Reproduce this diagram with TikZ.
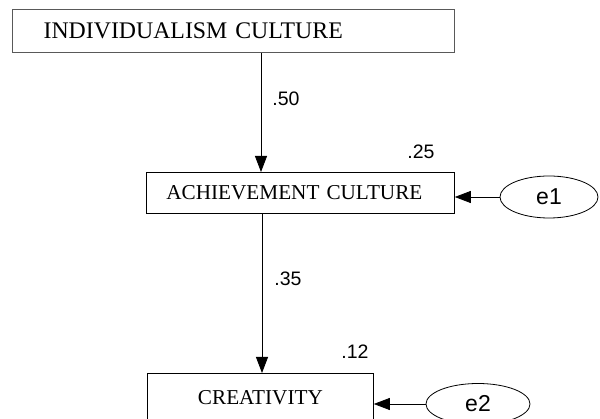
\documentclass[tikz,border=0pt]{standalone}
\usepackage{fontspec}
\setmainfont{Liberation Serif}
\newfontfamily\numfont{Liberation Sans}
\usetikzlibrary{arrows.meta,shapes.geometric}
\begin{document}
\begin{tikzpicture}[x=1pt,y=-1pt,
  box/.style={draw, line width=0.8pt, rectangle, inner ysep=0pt, anchor=north west},
  err/.style={draw, ellipse, line width=0.8pt, inner sep=0pt,
    font=\numfont\fontsize{23}{23}\selectfont},
  coef/.style={font=\numfont\fontsize{19.5}{19.5}\selectfont, inner sep=0pt},
  arr/.style={-{Triangle[length=16pt,width=12pt]}, line width=0.8pt}]
\useasboundingbox (0,0) rectangle (600,419);
\clip (0,0) rectangle (600,419);
% boxes
\node[box, draw=black!65, line width=1.2pt, minimum width=442pt, minimum height=43pt,
      text width=380pt, inner xsep=31pt, align=left,
      font=\fontsize{23.8}{24}\selectfont] (ind) at (12,9) {INDIVIDUALISM CULTURE};
\node[box, minimum width=308pt, minimum height=41pt,
      text width=268pt, inner xsep=20pt, align=left,
      font=\fontsize{21.2}{22}\selectfont] (ach) at (146,172) {ACHIEVEMENT CULTURE};
\node[box, minimum width=226pt, minimum height=48pt,
      text width=206pt, inner xsep=10pt, align=center,
      font=\fontsize{21.2}{22}\selectfont] (cre) at (147,373) {CREATIVITY};
% error terms
\node[err, minimum width=98pt, minimum height=42pt] (e1) at (549,197) {e1};
\node[err, minimum width=104pt, minimum height=41pt] (e2) at (478,404) {e2};
% arrow end points
\coordinate (t1) at (261,172);
\coordinate (t2) at (262,373);
% connectors
\draw[arr] (t1 |- ind.south) -- (t1);
\draw[arr] (t2 |- ach.south) -- (t2);
\draw[arr] (e1.west) -- (e1.west -| ach.east);
\draw[arr] (e2.west) -- (e2.west -| cre.east);
% coefficients
\node[coef] (c50) at (286,99) {.50};
\node[coef] (c35) at (288,279) {.35};
\node[coef] (c25) at (421,152) {.25};
\node[coef] (c12) at (355,352) {.12};
\end{tikzpicture}
\end{document}
